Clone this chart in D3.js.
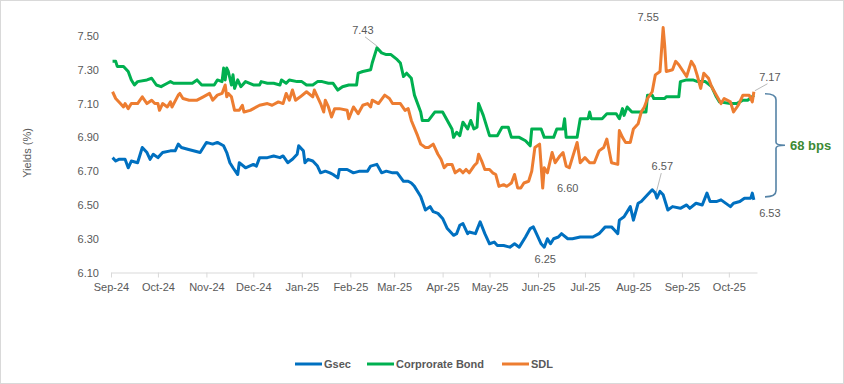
<!DOCTYPE html>
<html>
<head>
<meta charset="utf-8">
<script src="https://cdn.jsdelivr.net/npm/d3@7"></script>
<style>
  body { margin: 0; background: #fff; }
  svg { display: block; font-family: "Liberation Sans", Arial, sans-serif; }
</style>
</head>
<body>
<div id="chart"></div>
<script>
// ---- data ----
var gsec = [
  ["2024-09-02",6.78],["2024-09-04",6.76],["2024-09-06",6.77],["2024-09-10",6.77],["2024-09-12",6.72],
  ["2024-09-14",6.76],["2024-09-18",6.75],["2024-09-21",6.84],["2024-09-24",6.81],["2024-09-26",6.77],
  ["2024-09-28",6.80],["2024-10-01",6.78],["2024-10-04",6.81],["2024-10-09",6.82],["2024-10-12",6.82],
  ["2024-10-14",6.86],["2024-10-16",6.84],["2024-10-20",6.83],["2024-10-28",6.81],["2024-11-01",6.87],
  ["2024-11-05",6.86],["2024-11-08",6.87],["2024-11-12",6.85],["2024-11-14",6.81],["2024-11-16",6.75],
  ["2024-11-18",6.72],["2024-11-21",6.68],["2024-11-22",6.75],["2024-11-26",6.72],["2024-12-01",6.74],
  ["2024-12-03",6.73],["2024-12-05",6.78],["2024-12-10",6.78],["2024-12-14",6.79],["2024-12-18",6.78],
  ["2024-12-20",6.79],["2024-12-23",6.75],["2024-12-26",6.77],["2024-12-29",6.80],["2024-12-30",6.85],
  ["2025-01-02",6.82],["2025-01-03",6.75],["2025-01-05",6.77],["2025-01-08",6.76],["2025-01-11",6.73],
  ["2025-01-13",6.69],["2025-01-16",6.70],["2025-01-19",6.69],["2025-01-21",6.68],["2025-01-24",6.66],
  ["2025-01-25",6.71],["2025-01-30",6.71],["2025-02-03",6.69],["2025-02-07",6.70],["2025-02-12",6.70],
  ["2025-02-14",6.73],["2025-02-18",6.74],["2025-02-21",6.69],["2025-02-24",6.70],["2025-02-28",6.69],
  ["2025-03-03",6.69],["2025-03-07",6.64],["2025-03-10",6.64],["2025-03-12",6.63],["2025-03-14",6.61],
  ["2025-03-18",6.55],["2025-03-21",6.47],["2025-03-24",6.49],["2025-03-26",6.46],["2025-03-29",6.45],
  ["2025-04-01",6.42],["2025-04-04",6.36],["2025-04-08",6.32],["2025-04-10",6.33],["2025-04-12",6.38],
  ["2025-04-14",6.39],["2025-04-17",6.33],["2025-04-18",6.34],["2025-04-22",6.33],["2025-04-25",6.40],
  ["2025-04-28",6.33],["2025-05-01",6.27],["2025-05-04",6.28],["2025-05-06",6.26],["2025-05-10",6.26],
  ["2025-05-14",6.25],["2025-05-17",6.27],["2025-05-20",6.25],["2025-05-24",6.31],["2025-05-27",6.36],
  ["2025-05-29",6.37],["2025-05-31",6.33],["2025-06-03",6.27],["2025-06-05",6.25],["2025-06-07",6.30],
  ["2025-06-09",6.27],["2025-06-11",6.30],["2025-06-14",6.31],["2025-06-16",6.33],["2025-06-20",6.30],
  ["2025-06-23",6.30],["2025-06-28",6.31],["2025-07-02",6.31],["2025-07-06",6.31],["2025-07-10",6.33],
  ["2025-07-14",6.37],["2025-07-18",6.37],["2025-07-20",6.35],["2025-07-22",6.33],["2025-07-23",6.41],
  ["2025-07-26",6.43],["2025-07-30",6.49],["2025-08-01",6.41],["2025-08-04",6.51],["2025-08-06",6.52],
  ["2025-08-10",6.56],["2025-08-13",6.59],["2025-08-15",6.57],["2025-08-16",6.54],["2025-08-18",6.58],
  ["2025-08-20",6.56],["2025-08-23",6.47],["2025-08-26",6.49],["2025-08-31",6.48],["2025-09-04",6.50],
  ["2025-09-06",6.48],["2025-09-10",6.51],["2025-09-14",6.50],["2025-09-17",6.57],["2025-09-19",6.52],
  ["2025-09-23",6.52],["2025-09-26",6.53],["2025-10-02",6.49],["2025-10-04",6.51],["2025-10-08",6.52],
  ["2025-10-11",6.54],["2025-10-15",6.54],["2025-10-16",6.57],["2025-10-17",6.53]
];

var corporate = [
  ["2024-09-02",7.35],["2024-09-04",7.35],["2024-09-05",7.32],["2024-09-09",7.32],["2024-09-12",7.29],
  ["2024-09-14",7.24],["2024-09-16",7.21],["2024-09-18",7.23],["2024-09-24",7.24],["2024-09-27",7.25],
  ["2024-09-30",7.21],["2024-10-03",7.20],["2024-10-07",7.22],["2024-10-09",7.23],["2024-10-11",7.22],
  ["2024-10-23",7.22],["2024-10-26",7.24],["2024-10-29",7.21],["2024-11-06",7.21],["2024-11-08",7.24],
  ["2024-11-11",7.23],["2024-11-12",7.31],["2024-11-13",7.24],["2024-11-14",7.31],["2024-11-15",7.29],
  ["2024-11-17",7.21],["2024-11-18",7.27],["2024-11-19",7.19],["2024-11-21",7.24],["2024-11-23",7.20],
  ["2024-11-26",7.23],["2024-12-01",7.21],["2024-12-05",7.21],["2024-12-06",7.23],["2024-12-10",7.22],
  ["2024-12-14",7.22],["2024-12-18",7.21],["2024-12-19",7.24],["2024-12-22",7.22],["2024-12-24",7.24],
  ["2024-12-29",7.23],["2025-01-01",7.23],["2025-01-04",7.21],["2025-01-08",7.21],["2025-01-11",7.23],
  ["2025-01-14",7.23],["2025-01-18",7.22],["2025-01-21",7.22],["2025-01-24",7.18],["2025-01-27",7.20],
  ["2025-01-31",7.21],["2025-02-05",7.21],["2025-02-06",7.28],["2025-02-09",7.29],["2025-02-14",7.30],
  ["2025-02-15",7.34],["2025-02-18",7.43],["2025-02-21",7.40],["2025-02-24",7.39],["2025-02-27",7.39],
  ["2025-03-03",7.36],["2025-03-05",7.34],["2025-03-07",7.26],["2025-03-09",7.28],["2025-03-12",7.25],
  ["2025-03-14",7.15],["2025-03-18",7.05],["2025-03-19",7.00],["2025-03-23",7.00],["2025-03-27",7.05],
  ["2025-04-01",7.05],["2025-04-04",7.00],["2025-04-07",6.95],["2025-04-08",6.90],["2025-04-10",6.93],
  ["2025-04-12",6.91],["2025-04-14",6.99],["2025-04-17",6.95],["2025-04-19",7.00],["2025-04-21",6.95],
  ["2025-04-23",6.96],["2025-04-24",7.10],["2025-04-27",7.03],["2025-05-01",6.91],["2025-05-06",6.91],
  ["2025-05-09",6.96],["2025-05-13",6.96],["2025-05-15",6.90],["2025-05-20",6.90],["2025-05-24",6.88],
  ["2025-05-27",6.85],["2025-05-28",6.95],["2025-06-03",6.95],["2025-06-05",6.90],["2025-06-11",6.90],
  ["2025-06-13",6.95],["2025-06-17",6.95],["2025-06-18",7.01],["2025-06-19",6.90],["2025-06-26",6.90],
  ["2025-06-28",7.01],["2025-07-03",7.01],["2025-07-04",7.05],["2025-07-05",7.01],["2025-07-12",7.01],
  ["2025-07-15",7.04],["2025-07-21",7.04],["2025-07-23",7.01],["2025-07-25",7.07],["2025-07-26",7.03],
  ["2025-07-28",7.08],["2025-07-31",7.05],["2025-08-09",7.05],["2025-08-10",7.15],["2025-08-13",7.15],
  ["2025-08-14",7.13],["2025-08-21",7.13],["2025-08-22",7.14],["2025-08-30",7.14],["2025-08-31",7.23],
  ["2025-09-04",7.24],["2025-09-08",7.24],["2025-09-11",7.23],["2025-09-16",7.23],["2025-09-20",7.20],
  ["2025-09-23",7.14],["2025-09-25",7.11],["2025-10-02",7.10],["2025-10-06",7.10],["2025-10-10",7.12],
  ["2025-10-13",7.12],["2025-10-16",7.14],["2025-10-17",7.15]
];

var sdl = [
  ["2024-09-02",7.17],["2024-09-04",7.13],["2024-09-07",7.10],["2024-09-09",7.08],["2024-09-10",7.10],
  ["2024-09-12",7.07],["2024-09-14",7.10],["2024-09-18",7.10],["2024-09-21",7.14],["2024-09-24",7.10],
  ["2024-09-27",7.12],["2024-09-29",7.10],["2024-10-01",7.10],["2024-10-02",7.06],["2024-10-04",7.10],
  ["2024-10-07",7.08],["2024-10-09",7.11],["2024-10-10",7.08],["2024-10-14",7.15],["2024-10-15",7.16],
  ["2024-10-17",7.13],["2024-10-21",7.12],["2024-10-26",7.12],["2024-10-30",7.14],["2024-11-03",7.16],
  ["2024-11-05",7.12],["2024-11-08",7.15],["2024-11-11",7.16],["2024-11-13",7.21],["2024-11-14",7.14],
  ["2024-11-15",7.16],["2024-11-17",7.14],["2024-11-19",7.06],["2024-11-22",7.06],["2024-11-24",7.09],
  ["2024-11-25",7.05],["2024-11-29",7.06],["2024-12-05",7.09],["2024-12-10",7.10],["2024-12-13",7.09],
  ["2024-12-17",7.11],["2024-12-20",7.10],["2024-12-22",7.16],["2024-12-24",7.12],["2024-12-26",7.18],
  ["2024-12-28",7.12],["2024-12-31",7.14],["2025-01-04",7.17],["2025-01-08",7.14],["2025-01-09",7.18],
  ["2025-01-13",7.10],["2025-01-15",7.05],["2025-01-16",7.12],["2025-01-18",7.08],["2025-01-20",7.02],
  ["2025-01-22",7.07],["2025-01-25",7.07],["2025-01-30",7.06],["2025-01-31",7.01],["2025-02-03",7.08],
  ["2025-02-06",7.04],["2025-02-09",7.09],["2025-02-12",7.10],["2025-02-14",7.08],["2025-02-15",7.12],
  ["2025-02-19",7.10],["2025-02-23",7.15],["2025-02-26",7.13],["2025-02-28",7.10],["2025-03-05",7.10],
  ["2025-03-08",7.06],["2025-03-10",7.07],["2025-03-12",7.00],["2025-03-16",6.91],["2025-03-18",6.86],
  ["2025-03-21",6.84],["2025-03-23",6.84],["2025-03-26",6.86],["2025-03-29",6.80],["2025-03-31",6.77],
  ["2025-04-02",6.72],["2025-04-04",6.74],["2025-04-07",6.74],["2025-04-09",6.69],["2025-04-12",6.71],
  ["2025-04-14",6.69],["2025-04-16",6.71],["2025-04-18",6.69],["2025-04-21",6.73],["2025-04-23",6.75],
  ["2025-04-24",6.80],["2025-04-26",6.76],["2025-04-28",6.71],["2025-05-01",6.71],["2025-05-03",6.69],
  ["2025-05-05",6.68],["2025-05-07",6.61],["2025-05-10",6.62],["2025-05-12",6.61],["2025-05-15",6.63],
  ["2025-05-17",6.68],["2025-05-19",6.60],["2025-05-21",6.60],["2025-05-23",6.63],["2025-05-26",6.64],
  ["2025-05-28",6.70],["2025-05-30",6.84],["2025-06-02",6.86],["2025-06-04",6.60],["2025-06-05",6.72],
  ["2025-06-07",6.69],["2025-06-10",6.81],["2025-06-12",6.75],["2025-06-15",6.79],["2025-06-17",6.81],
  ["2025-06-19",6.73],["2025-06-21",6.72],["2025-06-23",6.78],["2025-06-26",6.87],["2025-06-28",6.75],
  ["2025-07-01",6.78],["2025-07-04",6.75],["2025-07-07",6.75],["2025-07-10",6.82],["2025-07-13",6.84],
  ["2025-07-15",6.89],["2025-07-18",6.75],["2025-07-22",6.74],["2025-07-23",6.94],["2025-07-25",6.90],
  ["2025-07-27",6.87],["2025-07-30",6.87],["2025-08-01",6.95],["2025-08-04",6.98],["2025-08-06",7.05],
  ["2025-08-08",7.08],["2025-08-10",7.13],["2025-08-13",7.17],["2025-08-15",7.27],["2025-08-18",7.29],
  ["2025-08-20",7.55],["2025-08-21",7.44],["2025-08-22",7.29],["2025-08-26",7.30],["2025-08-28",7.35],
  ["2025-08-30",7.33],["2025-09-04",7.26],["2025-09-07",7.35],["2025-09-09",7.32],["2025-09-11",7.26],
  ["2025-09-13",7.19],["2025-09-15",7.28],["2025-09-18",7.25],["2025-09-20",7.20],["2025-09-23",7.15],
  ["2025-09-26",7.10],["2025-09-28",7.13],["2025-10-02",7.11],["2025-10-04",7.05],["2025-10-07",7.09],
  ["2025-10-10",7.15],["2025-10-14",7.15],["2025-10-16",7.11],["2025-10-17",7.17]
];

var seriesNames = ["Gsec", "Corprorate Bond", "SDL"];
var monthTicks = ["2024-09-01","2024-10-01","2024-11-01","2024-12-01","2025-01-01","2025-02-01","2025-03-01",
                  "2025-04-01","2025-05-01","2025-06-01","2025-07-01","2025-08-01","2025-09-01","2025-10-01"];
var yTicks = [6.10, 6.30, 6.50, 6.70, 6.90, 7.10, 7.30, 7.50];

// labelled points: series, date, label
var callouts = [
  ["corporate", "2025-02-18", "7.43"],
  ["sdl", "2025-08-20", "7.55"],
  ["sdl", "2025-06-04", "6.60"],
  ["gsec", "2025-06-05", "6.25"],
  ["gsec", "2025-08-15", "6.57"],
  ["sdl", "2025-10-17", "7.17"],
  ["gsec", "2025-10-17", "6.53"]
];
var spreadLabel = "68 bps";

// ---- chart ----
var width = 844,
    height = 384;

var parse = d3.timeParse("%Y-%m-%d");
var colors = {gsec: "#0070c0", corporate: "#00b050", sdl: "#ed7d31"};
var data = {gsec: gsec, corporate: corporate, sdl: sdl};

var svg = d3.select("#chart").append("svg")
    .attr("width", width)
    .attr("height", height);

// chart area border
svg.append("rect")
    .attr("x", 0.5).attr("y", 0.5)
    .attr("width", width - 1).attr("height", height - 1)
    .attr("fill", "#fff")
    .attr("stroke", "#d9d9d9");

var x = d3.scaleTime()
    .domain([parse("2024-09-01"), parse("2025-10-19")])
    .range([111, 757]);

var y = d3.scaleLinear()
    .domain([6.1, 7.5])
    .range([272.5, 36]);

// x axis
var xAxis = svg.append("g")
    .attr("transform", "translate(0," + y(6.1) + ")")
    .call(d3.axisBottom(x)
        .tickValues(monthTicks.map(parse))
        .tickFormat(d3.timeFormat("%b-%y"))
        .tickSize(5)
        .tickSizeOuter(0)
        .tickPadding(6));
xAxis.select(".domain").attr("stroke", "#d9d9d9");
xAxis.selectAll(".tick line").attr("stroke", "#d9d9d9");
xAxis.selectAll("text")
    .attr("fill", "#595959")
    .style("font-size", "11px")
    .style("font-family", "'Liberation Sans', Arial, sans-serif");

// y axis (labels only)
var yAxis = svg.append("g")
    .attr("transform", "translate(111,0)")
    .call(d3.axisLeft(y)
        .tickValues(yTicks)
        .tickFormat(d3.format(".2f"))
        .tickSize(0)
        .tickPadding(12));
yAxis.select(".domain").remove();
yAxis.selectAll("text")
    .attr("fill", "#595959")
    .style("font-size", "11px")
    .style("font-family", "'Liberation Sans', Arial, sans-serif");

svg.append("text")
    .attr("transform", "translate(27,153) rotate(-90)")
    .attr("text-anchor", "middle")
    .attr("dy", "0.35em")
    .attr("fill", "#595959")
    .style("font-size", "11px")
    .text("Yields (%)");

// lines
var line = d3.line()
    .x(function (d) { return x(parse(d[0])); })
    .y(function (d) { return y(d[1]); });

["gsec", "corporate", "sdl"].forEach(function (k) {
    svg.append("path")
        .datum(data[k])
        .attr("fill", "none")
        .attr("stroke", colors[k])
        .attr("stroke-width", 3)
        .attr("stroke-linejoin", "round")
        .attr("d", line);
});

// callout labels; offsets (label centre relative to the point) and leader lines
var offsets = {
    "7.43": {dx: -14, dy: -18, leader: true},
    "7.55": {dx: -15, dy: -10, leader: false},
    "6.60": {dx: 25, dy: 0, leader: false},
    "6.25": {dx: 1, dy: 12, leader: false},
    "6.57": {dx: 7, dy: -27, leader: true},
    "7.17": {dx: 16, dy: -15, leader: true},
    "6.53": {dx: 16, dy: 13, leader: false}
};

callouts.forEach(function (c) {
    var pt = data[c[0]].find(function (d) { return d[0] === c[1]; });
    var px = x(parse(pt[0])), py = y(pt[1]);
    var o = offsets[c[2]];
    if (o.leader) {
        // leader from just outside the label to the point
        var lx = px + o.dx * 0.85, ly = py + o.dy + (o.dy < 0 ? 7 : -7);
        svg.append("line")
            .attr("x1", lx).attr("y1", ly)
            .attr("x2", px + 1).attr("y2", py - 1)
            .attr("stroke", "#a6a6a6")
            .attr("stroke-width", 0.8);
    }
    svg.append("text")
        .attr("x", px + o.dx)
        .attr("y", py + o.dy)
        .attr("dy", "0.35em")
        .attr("text-anchor", "middle")
        .attr("fill", "#595959")
        .style("font-size", "11px")
        .text(c[2]);
});

// spread bracket between last SDL and last Gsec points
var topY = y(sdl[sdl.length - 1][1]) + 2,
    botY = y(gsec[gsec.length - 1][1]) - 3,
    midY = (topY + botY) / 2,
    bx = 776;
svg.append("path")
    .attr("d", "M765," + topY + " Q" + bx + "," + topY + " " + bx + "," + (topY + 6) +
               " V" + (midY - 3) + " Q" + bx + "," + midY + " " + (bx + 9) + "," + midY +
               " Q" + bx + "," + midY + " " + bx + "," + (midY + 3) +
               " V" + (botY - 6) + " Q" + bx + "," + botY + " 765," + botY)
    .attr("fill", "none")
    .attr("stroke", "#5583a6")
    .attr("stroke-width", 1.6);

svg.append("text")
    .attr("x", 790)
    .attr("y", midY)
    .attr("dy", "0.35em")
    .attr("fill", "#3c8a34")
    .style("font-size", "13px")
    .style("font-weight", "bold")
    .text(spreadLabel);

// legend
var legendX = [295, 367, 502];
["gsec", "corporate", "sdl"].forEach(function (k, i) {
    var g = svg.append("g").attr("transform", "translate(" + legendX[i] + ",364)");
    g.append("line")
        .attr("x1", 0).attr("x2", 27)
        .attr("stroke", colors[k])
        .attr("stroke-width", 3);
    g.append("text")
        .attr("x", 29)
        .attr("dy", "0.35em")
        .attr("fill", "#595959")
        .style("font-size", "11px")
        .style("font-weight", "bold")
        .text(seriesNames[i]);
});
</script>
</body>
</html>
